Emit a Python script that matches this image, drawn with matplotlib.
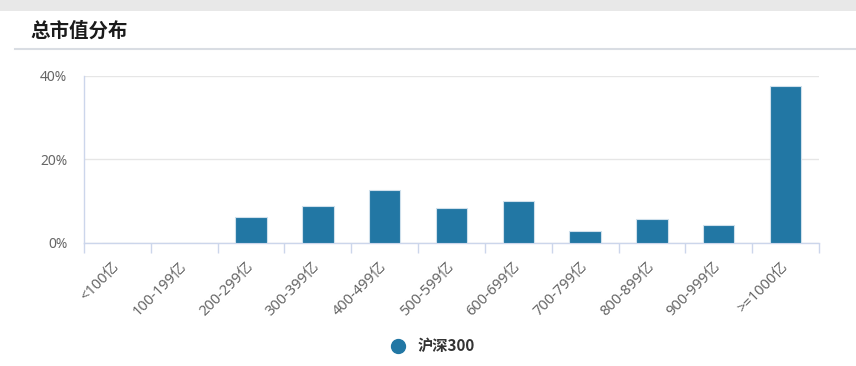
import matplotlib
matplotlib.use('Agg')
import matplotlib.pyplot as plt
from matplotlib.lines import Line2D
from matplotlib.patches import Rectangle
import numpy as np

plt.rcParams['font.family'] = ['Noto Sans', 'Noto Sans CJK SC', 'DejaVu Sans']

categories = ['<100亿', '100-199亿', '200-299亿', '300-399亿', '400-499亿', '500-599亿',
              '600-699亿', '700-799亿', '800-899亿', '900-999亿', '>=1000亿']
values = [0, 0, 6.2, 8.9, 12.6, 8.2, 10.0, 2.8, 5.7, 4.2, 37.6]
series_name = '沪深300'
yticks = [0, 20, 40]
ytick_labels = ['0%', '20%', '40%']
title = '总市值分布'

W, H = 856, 366
fig = plt.figure(figsize=(W / 100, H / 100), dpi=100)
fig.patch.set_facecolor('white')

# top grey strip
fig.add_artist(Rectangle((0, 1 - 11 / H), 1, 11 / H, transform=fig.transFigure,
                         facecolor='#e8e8e8', edgecolor='none', zorder=0))
# title and underline
fig.text(30 / W, 1 - 31 / H, title, fontsize=14, fontweight='bold', color='#1a1a1a',
         va='center', ha='left', family=['Noto Sans CJK SC'])
fig.add_artist(Line2D([15 / W, 1], [1 - 49 / H] * 2, transform=fig.transFigure,
                      color='#d9dde3', lw=1.5))

ax = fig.add_axes([84 / W, 1 - 242.7 / H, (819 - 84) / W, (242.7 - 75.7) / H])
x = np.arange(len(categories))
ax.bar(x, values, width=0.47, color='#2277a4', edgecolor='#cfe0ec', linewidth=0.8,
       zorder=3, label=series_name)
ax.set_xlim(-0.5, len(categories) - 0.5)
ax.set_ylim(0, 40)

ax.set_yticks(yticks)
ax.set_yticklabels(ytick_labels)
ax.yaxis.grid(True, color='#e6e6e6', lw=1, zorder=0)
ax.set_axisbelow(True)
ax.tick_params(axis='y', length=0, pad=12, labelsize=10, labelcolor='#666666')

ax.set_xticks(x)
ax.set_xticklabels(categories, rotation=45, ha='right', va='center', rotation_mode='anchor')
ax.set_xticks(np.arange(len(categories) + 1) - 0.5, minor=True)
ax.tick_params(axis='x', which='major', length=0, pad=16, labelsize=10.5, labelcolor='#666666')
ax.tick_params(axis='x', which='minor', length=7.5, width=1, color='#ccd6eb', direction='out')

for s in ['top', 'right']:
    ax.spines[s].set_visible(False)
for s in ['left', 'bottom']:
    ax.spines[s].set_color('#ccd6eb')
    ax.spines[s].set_linewidth(1)

handle = Line2D([], [], marker='o', linestyle='', markersize=10, color='#2277a4')
leg = fig.legend([handle], [series_name], loc='center', bbox_to_anchor=(429 / W, 1 - 346 / H),
                 frameon=False, handletextpad=0.3,
                 prop={'size': 11, 'weight': 'bold', 'family': ['Noto Sans CJK SC']})
for t in leg.get_texts():
    t.set_color('#333333')

fig.savefig('out.png', dpi=100)
